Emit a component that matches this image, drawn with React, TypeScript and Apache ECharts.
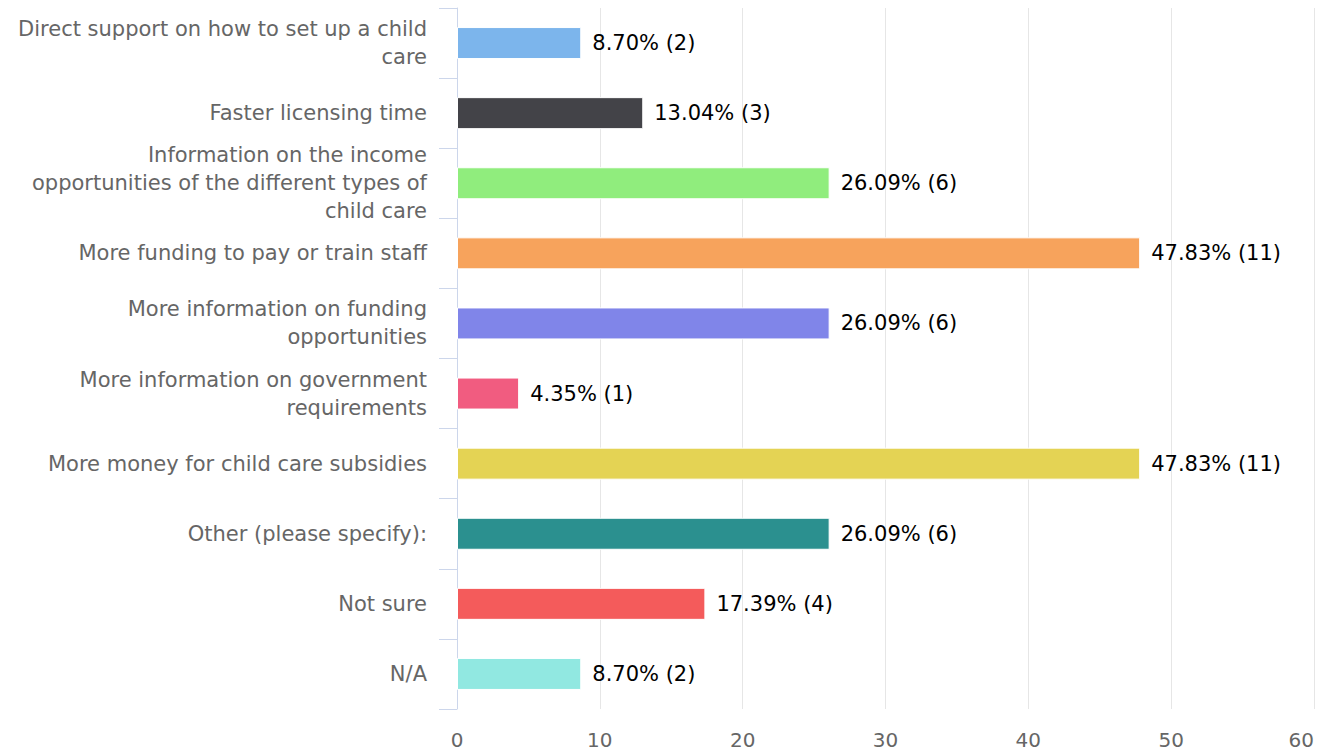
import React, { useEffect, useRef } from "react";
import * as echarts from "echarts";

const categories: string[] = [
  "Direct support on how to set up a child\ncare",
  "Faster licensing time",
  "Information on the income\nopportunities of the different types of\nchild care",
  "More funding to pay or train staff",
  "More information on funding\nopportunities",
  "More information on government\nrequirements",
  "More money for child care subsidies",
  "Other (please specify):",
  "Not sure",
  "N/A",
];
const percents: number[] = [8.7, 13.04, 26.09, 47.83, 26.09, 4.35, 47.83, 26.09, 17.39, 8.7];
const counts: number[] = [2, 3, 6, 11, 6, 1, 11, 6, 4, 2];
const colors: string[] = [
  "#7cb5ec", "#434348", "#90ed7d", "#f7a35c", "#8085e9",
  "#f15c80", "#e4d354", "#2b908f", "#f45b5b", "#91e8e1",
];
const xTicks = { min: 0, max: 60, interval: 10 };

export default function App() {
  const ref = useRef<HTMLDivElement>(null);
  useEffect(() => {
    if (!ref.current) return;
    const chart = echarts.init(ref.current, undefined, { renderer: "svg" });
    const font = "DejaVu Sans";
    chart.setOption({
      animation: false,
      grid: { left: 457, top: 8, right: 11, bottom: 44, containLabel: false },
      xAxis: {
        type: "value",
        min: xTicks.min,
        max: xTicks.max,
        interval: xTicks.interval,
        axisLine: { show: false },
        axisTick: { show: false },
        splitLine: { show: true, lineStyle: { color: "#e6e6e6", width: 1 } },
        axisLabel: {
          color: "#666666",
          fontSize: 20,
          fontFamily: font,
          margin: 21,
          alignMaxLabel: "right",
        },
      },
      yAxis: {
        type: "category",
        inverse: true,
        data: categories,
        axisLine: { show: true, lineStyle: { color: "#ccd6eb", width: 1 } },
        axisTick: { show: true, length: 18, lineStyle: { color: "#ccd6eb" } },
        axisLabel: {
          color: "#666666",
          fontSize: 21,
          fontFamily: font,
          margin: 30,
          lineHeight: 28,
          align: "right",
          interval: 0,
        },
      },
      series: [
        {
          type: "bar",
          barWidth: 32,
          data: percents.map((v, i) => ({
            value: v,
            itemStyle: { color: colors[i], borderColor: "#ffffff", borderWidth: 1 },
          })),
          label: {
            show: true,
            position: "right",
            distance: 11,
            color: "#000000",
            fontSize: 21,
            fontFamily: font,
            formatter: (p: any) => `${percents[p.dataIndex].toFixed(2)}% (${counts[p.dataIndex]})`,
          },
        },
      ],
    });
    return () => chart.dispose();
  }, []);
  return (
    <div
      ref={ref}
      style={{ position: "fixed", left: 0, top: 0, width: 1325, height: 753, background: "#ffffff" }}
    />
  );
}
